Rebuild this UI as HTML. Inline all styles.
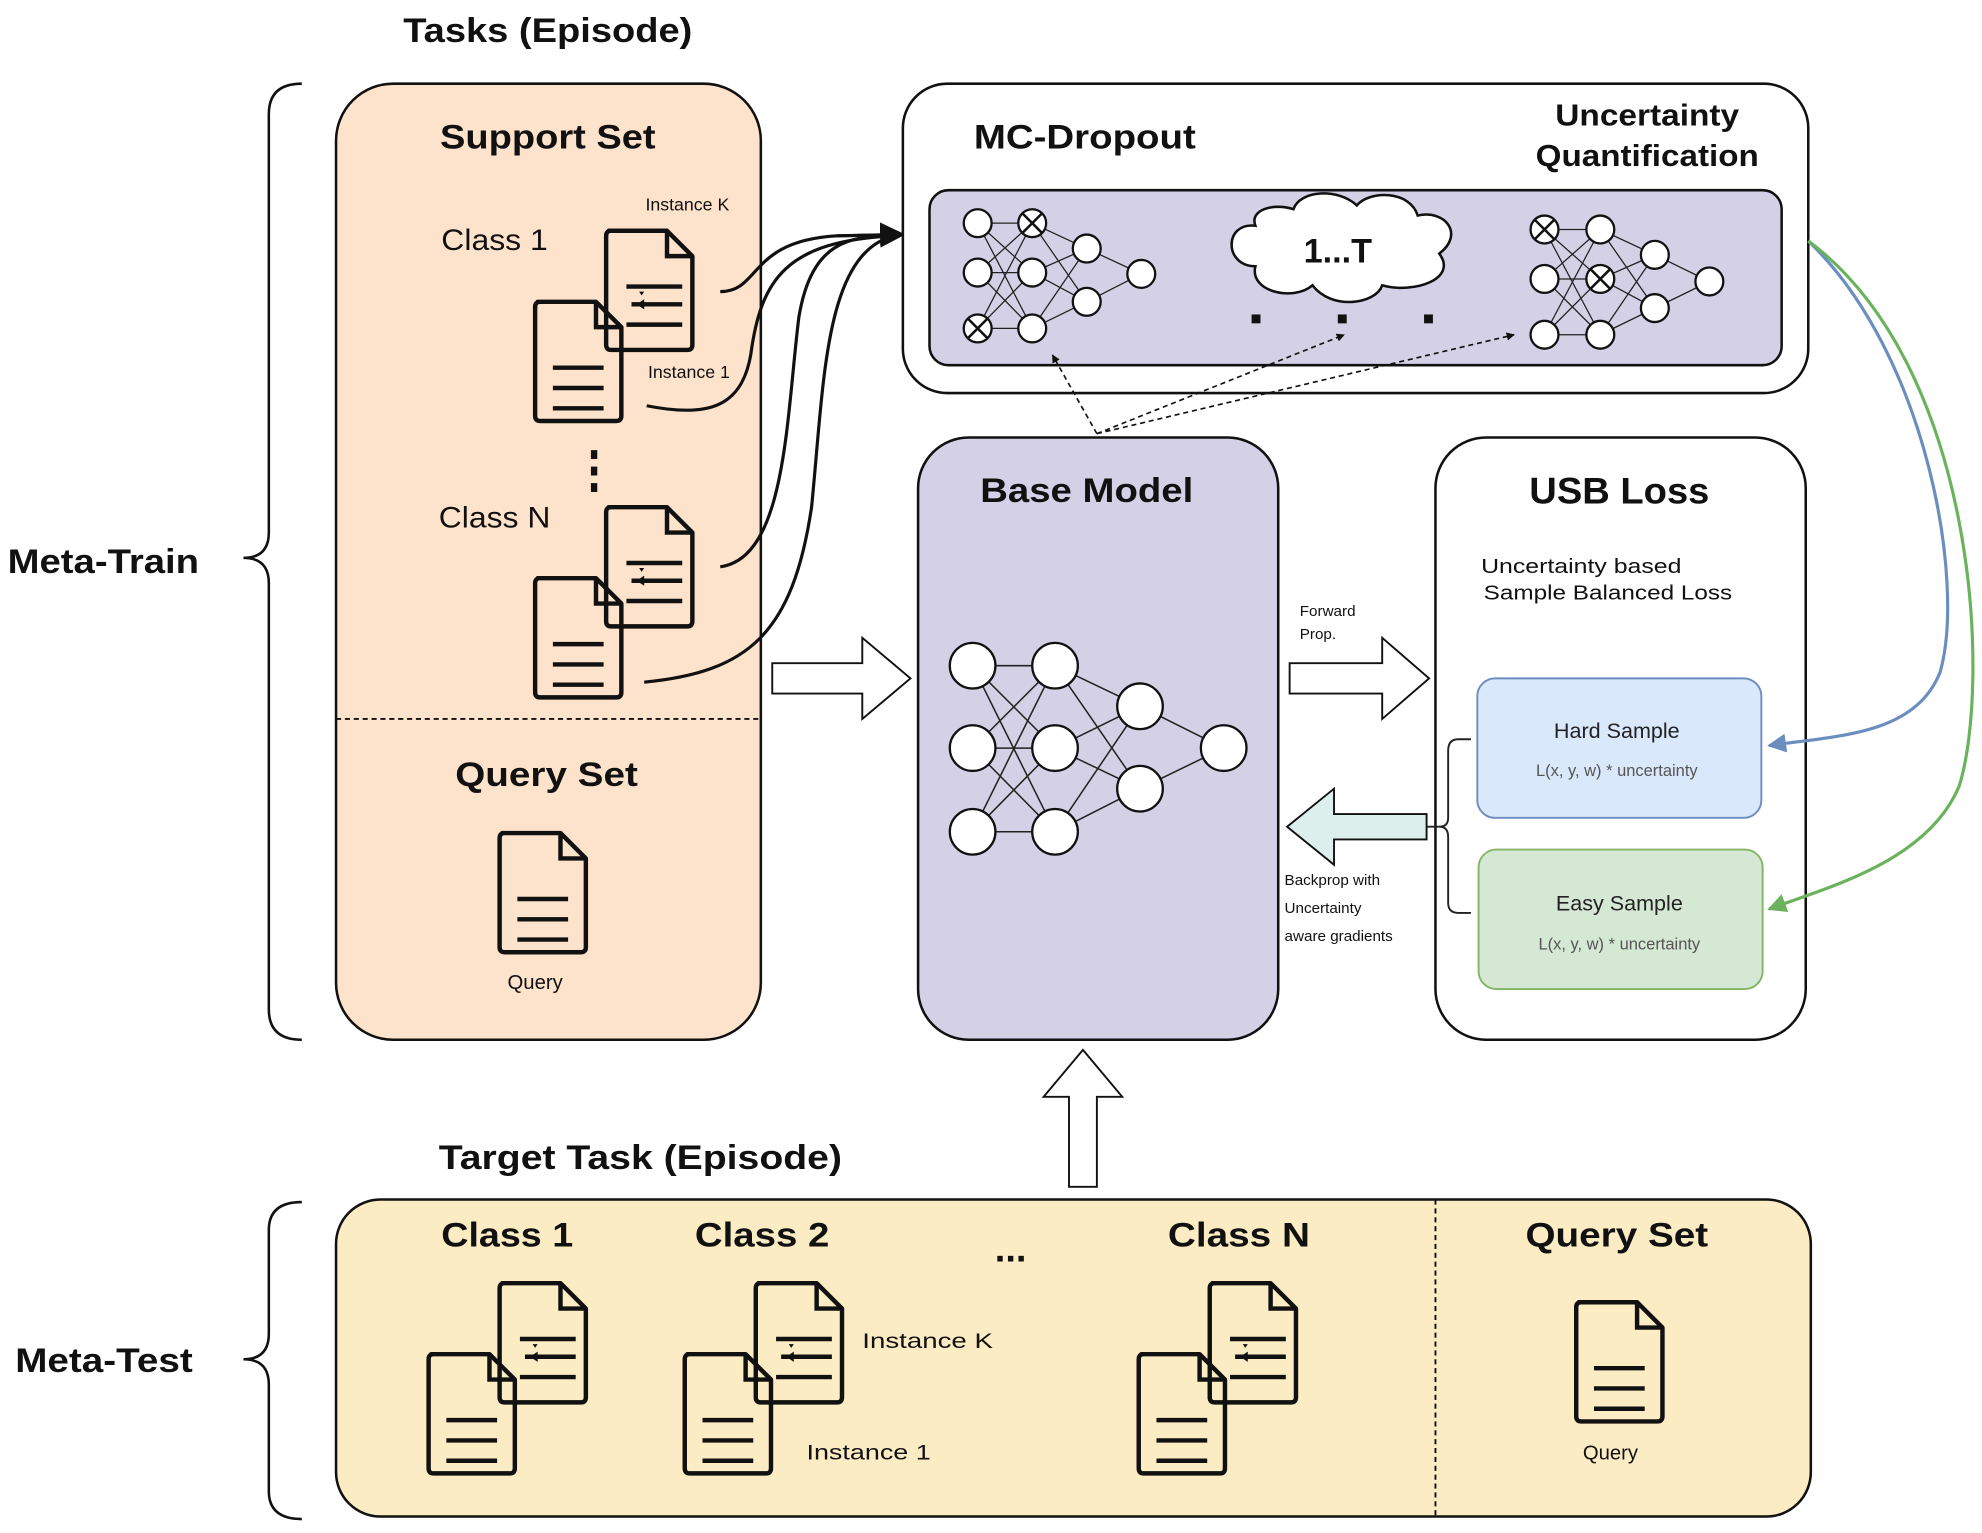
<!DOCTYPE html>
<html><head><meta charset="utf-8"><style>
html,body{margin:0;padding:0;background:#fff;}
svg{display:block;}
text{font-family:"Liberation Sans",Arial,sans-serif;fill:#111;}
.b{font-weight:bold;}
</style></head><body>
<svg width="1982" height="1533" viewBox="0 0 1563 1209" preserveAspectRatio="none" xmlns="http://www.w3.org/2000/svg">
<defs>
<symbol id="docA" viewBox="0 0 72 98" overflow="visible">
<path d="M4 2 H50 L70 22 V92 Q70 96 66 96 H6 Q2 96 2 92 V6 Q2 2 6 2 Z" fill="none" stroke="#111" stroke-width="3.5" stroke-linejoin="round"/>
<path d="M50 2 V22 H70" fill="none" stroke="#111" stroke-width="3.5"/>
<path d="M18 46 H62 M22 60 H62 M18 76 H62" stroke="#111" stroke-width="3.5"/>
<path d="M30 53 l-2 -3 l4 0 z M26 60 l6 -4 v8 z" fill="#111"/>
</symbol>
<symbol id="docL" viewBox="0 0 72 98" overflow="visible">
<path d="M4 2 H50 L70 22 V92 Q70 96 66 96 H6 Q2 96 2 92 V6 Q2 2 6 2 Z" fill="none" stroke="#111" stroke-width="3.5" stroke-linejoin="round"/>
<path d="M50 2 V22 H70" fill="none" stroke="#111" stroke-width="3.5"/>
<path d="M16 54 H56 M16 70 H56 M16 86 H56" stroke="#111" stroke-width="3.5"/>
</symbol>
<marker id="ah" viewBox="0 0 10 10" refX="9" refY="5" markerWidth="8" markerHeight="8" orient="auto"><path d="M0 0 L10 5 L0 10 z" fill="#111"/></marker>
<marker id="ahs" viewBox="0 0 10 10" refX="9" refY="5" markerWidth="5" markerHeight="5" orient="auto"><path d="M0 0 L10 5 L0 10 z" fill="#111"/></marker>
<marker id="ahb" viewBox="0 0 10 10" refX="9" refY="5" markerWidth="6" markerHeight="6" orient="auto"><path d="M0 0 L10 5 L0 10 z" fill="#6c8ebf"/></marker>
<marker id="ahg" viewBox="0 0 10 10" refX="9" refY="5" markerWidth="6" markerHeight="6" orient="auto"><path d="M0 0 L10 5 L0 10 z" fill="#6ab35c"/></marker>
</defs>

<text x="318" y="33" class="b" font-size="27" textLength="228" lengthAdjust="spacingAndGlyphs">Tasks (Episode)</text>

<path d="M238 66 Q212 66 212 90 V420 Q212 440 192 440 Q212 440 212 460 V796 Q212 820 238 820" fill="none" stroke="#111" stroke-width="2"/>
<text x="6" y="452" class="b" font-size="27" textLength="151" lengthAdjust="spacingAndGlyphs">Meta-Train</text>
<path d="M238 948 Q212 948 212 970 V1052 Q212 1072 192 1072 Q212 1072 212 1092 V1176 Q212 1198 238 1198" fill="none" stroke="#111" stroke-width="2"/>
<text x="12" y="1082" class="b" font-size="27" textLength="140" lengthAdjust="spacingAndGlyphs">Meta-Test</text>

<rect x="265" y="66" width="335" height="754" rx="45" fill="#fde2cc" stroke="#111" stroke-width="2"/>
<line x1="265" y1="567" x2="600" y2="567" stroke="#111" stroke-width="1.5" stroke-dasharray="4,3"/>
<text x="347" y="117" class="b" font-size="27" textLength="170" lengthAdjust="spacingAndGlyphs">Support Set</text>
<text x="348" y="197" font-size="23" textLength="84" lengthAdjust="spacingAndGlyphs">Class 1</text>
<text x="346" y="416" font-size="23" textLength="88" lengthAdjust="spacingAndGlyphs">Class N</text>
<text x="509" y="166" font-size="14">Instance K</text>
<text x="511" y="298" font-size="14">Instance 1</text>
<rect x="466" y="355" width="5" height="7" fill="#111"/><rect x="466" y="368" width="5" height="7" fill="#111"/><rect x="466" y="381" width="5" height="7" fill="#111"/>
<use href="#docA" x="476" y="180" width="72" height="98"/>
<use href="#docL" x="420" y="236" width="72" height="98"/>
<use href="#docA" x="476" y="398" width="72" height="98"/>
<use href="#docL" x="420" y="454" width="72" height="98"/>
<text x="359" y="620" class="b" font-size="27" textLength="144" lengthAdjust="spacingAndGlyphs">Query Set</text>
<use href="#docL" x="392" y="655" width="72" height="98"/>
<text x="422" y="780" font-size="16" text-anchor="middle">Query</text>

<g fill="none" stroke="#111" stroke-width="2.5">
<path d="M568 230 C600 230 590 190 660 186 L708 185"/>
<path d="M510 320 C560 330 585 320 592 280 C600 220 620 190 705 186"/>
<path d="M568 447 C620 440 620 330 630 250 C640 190 670 186 705 186"/>
<path d="M508 538 C590 530 625 500 640 400 C650 300 650 200 705 186"/>
<path d="M660 186 L712 185" marker-end="url(#ah)"/>
</g>

<rect x="712" y="66" width="714" height="244" rx="35" fill="#fff" stroke="#111" stroke-width="2"/>
<text x="768" y="117" class="b" font-size="27" textLength="175" lengthAdjust="spacingAndGlyphs">MC-Dropout</text>
<text x="1299" y="99" class="b" font-size="24" text-anchor="middle" textLength="145" lengthAdjust="spacingAndGlyphs">Uncertainty</text>
<text x="1299" y="131" class="b" font-size="24" text-anchor="middle" textLength="176" lengthAdjust="spacingAndGlyphs">Quantification</text>
<rect x="733" y="150" width="672" height="138" rx="15" fill="#d4d0e6" stroke="#111" stroke-width="2"/>

<g stroke="#222" stroke-width="1" fill="none">
<path d="M771 176 L814 176 M771 176 L814 215 M771 176 L814 259 M771 215 L814 176 M771 215 L814 215 M771 215 L814 259 M771 259 L814 176 M771 259 L814 215 M771 259 L814 259 M814 176 L857 196 M814 176 L857 238 M814 215 L857 196 M814 215 L857 238 M814 259 L857 196 M814 259 L857 238 M857 196 L900 216 M857 238 L900 216"/>
<path d="M1218 181 L1262 181 M1218 181 L1262 220 M1218 181 L1262 264 M1218 220 L1262 181 M1218 220 L1262 220 M1218 220 L1262 264 M1218 264 L1262 181 M1218 264 L1262 220 M1218 264 L1262 264 M1262 181 L1305 201 M1262 181 L1305 243 M1262 220 L1305 201 M1262 220 L1305 243 M1262 264 L1305 201 M1262 264 L1305 243 M1305 201 L1348 222 M1305 243 L1348 222"/>
</g>
<g fill="#fff" stroke="#111" stroke-width="1.8">
<circle cx="771" cy="176" r="11"/><circle cx="771" cy="215" r="11"/><circle cx="771" cy="259" r="11"/>
<circle cx="814" cy="176" r="11"/><circle cx="814" cy="215" r="11"/><circle cx="814" cy="259" r="11"/>
<circle cx="857" cy="196" r="11"/><circle cx="857" cy="238" r="11"/><circle cx="900" cy="216" r="11"/>
<circle cx="1218" cy="181" r="11"/><circle cx="1218" cy="220" r="11"/><circle cx="1218" cy="264" r="11"/>
<circle cx="1262" cy="181" r="11"/><circle cx="1262" cy="220" r="11"/><circle cx="1262" cy="264" r="11"/>
<circle cx="1305" cy="201" r="11"/><circle cx="1305" cy="243" r="11"/><circle cx="1348" cy="222" r="11"/>
</g>
<g stroke="#111" stroke-width="2">
<path d="M806 168 L822 184 M822 168 L806 184"/><path d="M763 251 L779 267 M779 251 L763 267"/>
<path d="M1210 173 L1226 189 M1226 173 L1210 189"/><path d="M1254 212 L1270 228 M1270 212 L1254 228"/>
</g>
<path d="M990 178 C965 175 965 210 990 210 C985 230 1020 238 1035 225 C1050 245 1085 240 1090 225 C1115 232 1150 220 1135 200 C1155 185 1140 165 1118 170 C1112 150 1080 150 1070 162 C1055 148 1025 150 1020 165 C1005 160 985 165 990 178 Z" fill="#fff" stroke="#111" stroke-width="2"/>
<text x="1055" y="207" class="b" font-size="27" text-anchor="middle">1...T</text>
<rect x="987" y="248" width="7" height="7" fill="#111"/><rect x="1055" y="248" width="7" height="7" fill="#111"/><rect x="1123" y="248" width="7" height="7" fill="#111"/>

<g fill="none" stroke="#111" stroke-width="1.3" stroke-dasharray="4,3">
<path d="M865 342 L830 280" marker-end="url(#ahs)"/>
<path d="M865 342 L1060 264" marker-end="url(#ahs)"/>
<path d="M865 342 L1194 264" marker-end="url(#ahs)"/>
</g>

<rect x="724" y="345" width="284" height="475" rx="40" fill="#d4d0e6" stroke="#111" stroke-width="2"/>
<text x="857" y="396" class="b" font-size="27" text-anchor="middle" textLength="168" lengthAdjust="spacingAndGlyphs">Base Model</text>
<g stroke="#222" stroke-width="1.2" fill="none">
<path d="M767 525 L832 525 M767 525 L832 590 M767 525 L832 656 M767 590 L832 525 M767 590 L832 590 M767 590 L832 656 M767 656 L832 525 M767 656 L832 590 M767 656 L832 656 M832 525 L899 557 M832 525 L899 622 M832 590 L899 557 M832 590 L899 622 M832 656 L899 557 M832 656 L899 622 M899 557 L965 590 M899 622 L965 590"/>
</g>
<g fill="#fff" stroke="#111" stroke-width="1.8">
<circle cx="767" cy="525" r="18"/><circle cx="767" cy="590" r="18"/><circle cx="767" cy="656" r="18"/>
<circle cx="832" cy="525" r="18"/><circle cx="832" cy="590" r="18"/><circle cx="832" cy="656" r="18"/>
<circle cx="899" cy="557" r="18"/><circle cx="899" cy="622" r="18"/><circle cx="965" cy="590" r="18"/>
</g>

<path d="M609 523 H680 V503 L718 535 L680 567 V547 H609 Z" fill="#fff" stroke="#111" stroke-width="1.5"/>
<path d="M1017 523 H1090 V503 L1127 535 L1090 567 V547 H1017 Z" fill="#fff" stroke="#111" stroke-width="1.5"/>
<path d="M1125 642 H1052 V622 L1015 652 L1052 682 V662 H1125 Z" fill="#dcefec" stroke="#111" stroke-width="1.5"/>
<path d="M843 936 V865 H823 L854 828 L885 865 H865 V936 Z" fill="#fff" stroke="#111" stroke-width="1.5"/>
<text x="1025" y="486" font-size="12">Forward</text>
<text x="1025" y="504" font-size="12">Prop.</text>
<text x="1013" y="698" font-size="12">Backprop with</text>
<text x="1013" y="720" font-size="12">Uncertainty</text>
<text x="1013" y="742" font-size="12">aware gradients</text>

<rect x="1132" y="345" width="292" height="475" rx="40" fill="#fff" stroke="#111" stroke-width="2"/>
<text x="1277" y="397" class="b" font-size="29" text-anchor="middle" textLength="142" lengthAdjust="spacingAndGlyphs">USB Loss</text>
<text x="1168" y="452" font-size="16" textLength="158" lengthAdjust="spacingAndGlyphs">Uncertainty based</text>
<text x="1170" y="473" font-size="16" textLength="196" lengthAdjust="spacingAndGlyphs">Sample Balanced Loss</text>
<rect x="1165" y="535" width="224" height="110" rx="14" fill="#dae8fc" stroke="#6c8ebf" stroke-width="1.5"/>
<text x="1275" y="582" font-size="17" text-anchor="middle" style="fill:#222">Hard Sample</text>
<text x="1275" y="612" font-size="13" text-anchor="middle" style="fill:#555">L(x, y, w) * uncertainty</text>
<rect x="1166" y="670" width="224" height="110" rx="14" fill="#d5e8d4" stroke="#82b366" stroke-width="1.5"/>
<text x="1277" y="718" font-size="17" text-anchor="middle" style="fill:#222">Easy Sample</text>
<text x="1277" y="749" font-size="13" text-anchor="middle" style="fill:#555">L(x, y, w) * uncertainty</text>
<path d="M1160 583 H1150 Q1142 583 1142 592 V645 Q1142 652 1135 652 Q1142 652 1142 660 V712 Q1142 720 1150 720 H1160 M1125 652 H1135" fill="none" stroke="#222" stroke-width="1.5"/>

<path d="M1426 190 C1520 280 1550 460 1530 530 C1510 580 1450 580 1395 588" fill="none" stroke="#6c8ebf" stroke-width="2.5" marker-end="url(#ahb)"/>
<path d="M1426 190 C1560 290 1570 540 1545 620 C1520 680 1440 700 1395 717" fill="none" stroke="#6ab35c" stroke-width="2.5" marker-end="url(#ahg)"/>

<text x="346" y="922" class="b" font-size="27" textLength="318" lengthAdjust="spacingAndGlyphs">Target Task  (Episode)</text>
<rect x="265" y="946" width="1163" height="250" rx="35" fill="#fcecc4" stroke="#111" stroke-width="2"/>
<line x1="1132" y1="946" x2="1132" y2="1196" stroke="#111" stroke-width="1.5" stroke-dasharray="4,3"/>
<text x="400" y="983" class="b" font-size="27" text-anchor="middle" textLength="104" lengthAdjust="spacingAndGlyphs">Class 1</text>
<text x="601" y="983" class="b" font-size="27" text-anchor="middle" textLength="106" lengthAdjust="spacingAndGlyphs">Class 2</text>
<text x="797" y="995" class="b" font-size="30" text-anchor="middle">...</text>
<text x="977" y="983" class="b" font-size="27" text-anchor="middle" textLength="112" lengthAdjust="spacingAndGlyphs">Class N</text>
<text x="1275" y="983" class="b" font-size="27" text-anchor="middle" textLength="144" lengthAdjust="spacingAndGlyphs">Query Set</text>
<use href="#docA" x="392" y="1010" width="72" height="98"/>
<use href="#docL" x="336" y="1066" width="72" height="98"/>
<use href="#docA" x="594" y="1010" width="72" height="98"/>
<use href="#docL" x="538" y="1066" width="72" height="98"/>
<use href="#docA" x="952" y="1010" width="72" height="98"/>
<use href="#docL" x="896" y="1066" width="72" height="98"/>
<use href="#docL" x="1241" y="1025" width="72" height="98"/>
<text x="680" y="1063" font-size="17" textLength="103" lengthAdjust="spacingAndGlyphs">Instance K</text>
<text x="636" y="1151" font-size="17" textLength="98" lengthAdjust="spacingAndGlyphs">Instance 1</text>
<text x="1270" y="1151" font-size="16" text-anchor="middle">Query</text>
</svg>
</body></html>
